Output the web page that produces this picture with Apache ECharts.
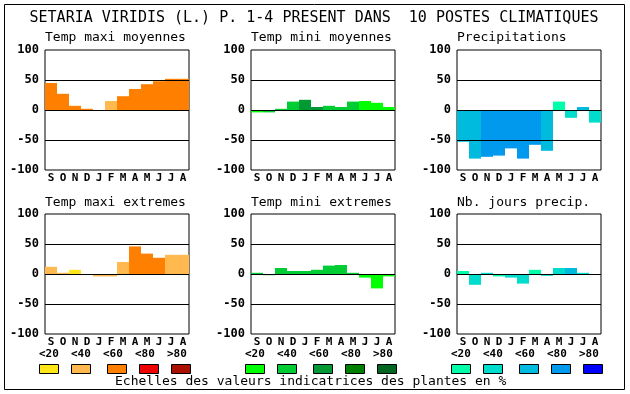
<!DOCTYPE html>
<html>
<head>
<meta charset="utf-8">
<script src="https://cdn.jsdelivr.net/npm/echarts@6/dist/echarts.min.js"></script>
<style>
html,body{margin:0;padding:0;background:#fff;}
#chart{width:630px;height:394px;}
</style>
</head>
<body>
<div id="chart"></div>
<script>
// ---- data ----
var months = ['S','O','N','D','J','F','M','A','M','J','J','A'];
var yTicks = [-100, -50, 0, 50, 100];
var scaleLabels = ['<20','<40','<60','<80','>80'];

var mainTitle = 'SETARIA VIRIDIS (L.) P. 1-4 PRESENT DANS  10 POSTES CLIMATIQUES';
var footText = 'Echelles des valeurs indicatrices des plantes en %';

var panelTitles = ['Temp maxi moyennes','Temp mini moyennes','Precipitations',
                   'Temp maxi extremes','Temp mini extremes','Nb. jours precip.'];

var orangeScale = ['#ffe619','#ffb94f','#ff8000','#ee0000','#aa1100'];
var greenScale  = ['#00ff00','#00cc33','#009933','#008000','#006620'];
var blueScale   = ['#00ffaa','#00ddcc','#00bbdd','#0099ee','#0000ff'];

var tmaxMoyValues = [45, 27, 7, 2, 0, 15, 23, 35, 43, 48, 52, 52];
var tmaxMoyClass  = [2, 2, 2, 2, 2, 1, 2, 2, 2, 2, 2, 2];

var tminMoyValues = [-4, -4, 2, 14, 17, 5, 7, 5, 14, 15, 12, 5];
var tminMoyClass  = [0, 1, 1, 1, 2, 2, 1, 1, 1, 0, 0, 0];

var precValues = [-53, -81, -78, -76, -64, -81, -58, -68, 14, -13, 5, -21];
var precClass  = [2, 2, 3, 3, 3, 3, 3, 2, 0, 1, 2, 1];

var tmaxExtValues = [12, 2, 7, 0, -4, -4, 20, 46, 34, 27, 32, 32];
var tmaxExtClass  = [1, 1, 0, 1, 1, 1, 1, 2, 2, 2, 1, 1];

var tminExtValues = [2, -2, 10, 5, 5, 7, 14, 15, 2, -6, -24, -4];
var tminExtClass  = [1, 1, 1, 1, 1, 1, 1, 1, 1, 0, 0, 0];

var joursValues = [5, -18, 2, -4, -6, -16, 7, -3, 10, 10, 2, 0];
var joursClass  = [0, 1, 1, 0, 1, 1, 0, 1, 1, 2, 1, 1];

var panelValues = [tmaxMoyValues, tminMoyValues, precValues, tmaxExtValues, tminExtValues, joursValues];
var panelClasses = [tmaxMoyClass, tminMoyClass, precClass, tmaxExtClass, tminExtClass, joursClass];
var panelScales = [orangeScale, greenScale, blueScale, orangeScale, greenScale, blueScale];

// ---- layout ----
var colLeft = [45, 251, 457];
var rowTop = [50, 214];
var plotW = 144, plotH = 120;
var mono = '"DejaVu Sans Mono", "Liberation Mono", monospace';

var grids = [], xAxes = [], yAxes = [], series = [], graphics = [];

for (var p = 0; p < 6; p++) {
  var c = p % 3, r = Math.floor(p / 3);
  grids.push({left: colLeft[c], top: rowTop[r], width: plotW, height: plotH,
              show: true, borderColor: '#000', borderWidth: 1, backgroundColor: '#fff'});
  xAxes.push({type: 'category', gridIndex: p, data: months, boundaryGap: true,
              axisLine: {show: false}, axisTick: {show: false}, splitLine: {show: false},
              axisLabel: {interval: 0, margin: 3, color: '#000', fontFamily: mono,
                          fontWeight: 'bold', fontSize: 11}});
  yAxes.push({type: 'value', gridIndex: p, min: yTicks[0], max: yTicks[yTicks.length-1], interval: 50,
              axisLine: {show: false}, axisTick: {show: false}, splitLine: {show: false},
              axisLabel: {margin: 6, color: '#000', fontFamily: mono, fontWeight: 'bold', fontSize: 12}});
  var vals = panelValues[p], cls = panelClasses[p], sc = panelScales[p];
  series.push({
    type: 'bar', xAxisIndex: p, yAxisIndex: p,
    barCategoryGap: '0%', barGap: '0%',
    data: vals.map(function (v, i) { return {value: v, itemStyle: {color: sc[cls[i]]}}; }),
    markLine: {
      silent: true, symbol: ['none','none'], label: {show: false},
      lineStyle: {color: '#000', type: 'solid', width: 1},
      emphasis: {disabled: true},
      data: [{yAxis: 50}, {yAxis: 0}, {yAxis: -50}]
    }
  });
  graphics.push({type: 'text', x: colLeft[c], y: r === 0 ? 38 : 203,
    style: {text: panelTitles[p], font: '13px ' + mono, fill: '#000',
            textAlign: 'left', textVerticalAlign: 'middle'}});
}

// outer frame
graphics.push({type: 'rect', shape: {x: 4.5, y: 4.5, width: 620, height: 385},
               style: {fill: 'none', stroke: '#000', lineWidth: 1}, z: -1});
// main title
graphics.push({type: 'text', x: 314, y: 18,
  style: {text: mainTitle, font: '15px ' + mono, fill: '#000', textAlign: 'center', textVerticalAlign: 'middle'}});
// legend scales
var groupX = [39, 245, 451];
var groupScales = [orangeScale, greenScale, blueScale];
for (var g = 0; g < 3; g++) {
  for (var k = 0; k < 5; k++) {
    var lx = groupX[g] + 32 * k;
    var sx = lx + (k >= 2 ? 4 : 0);
    graphics.push({type: 'text', x: lx, y: 354,
      style: {text: scaleLabels[k], font: 'bold 11px ' + mono, fill: '#000',
              textAlign: 'left', textVerticalAlign: 'middle'}});
    graphics.push({type: 'rect', shape: {x: sx + 0.5, y: 364.5, width: 19, height: 9},
      style: {fill: groupScales[g][k], stroke: '#000', lineWidth: 1}});
  }
}
graphics.push({type: 'text', x: 115, y: 382,
  style: {text: footText, font: '13px ' + mono, fill: '#000', textAlign: 'left', textVerticalAlign: 'middle'}});

var chart = echarts.init(document.getElementById('chart'), null, {renderer: 'canvas'});
chart.setOption({
  animation: false,
  backgroundColor: '#fff',
  grid: grids, xAxis: xAxes, yAxis: yAxes, series: series,
  graphic: graphics
});
</script>
</body>
</html>
